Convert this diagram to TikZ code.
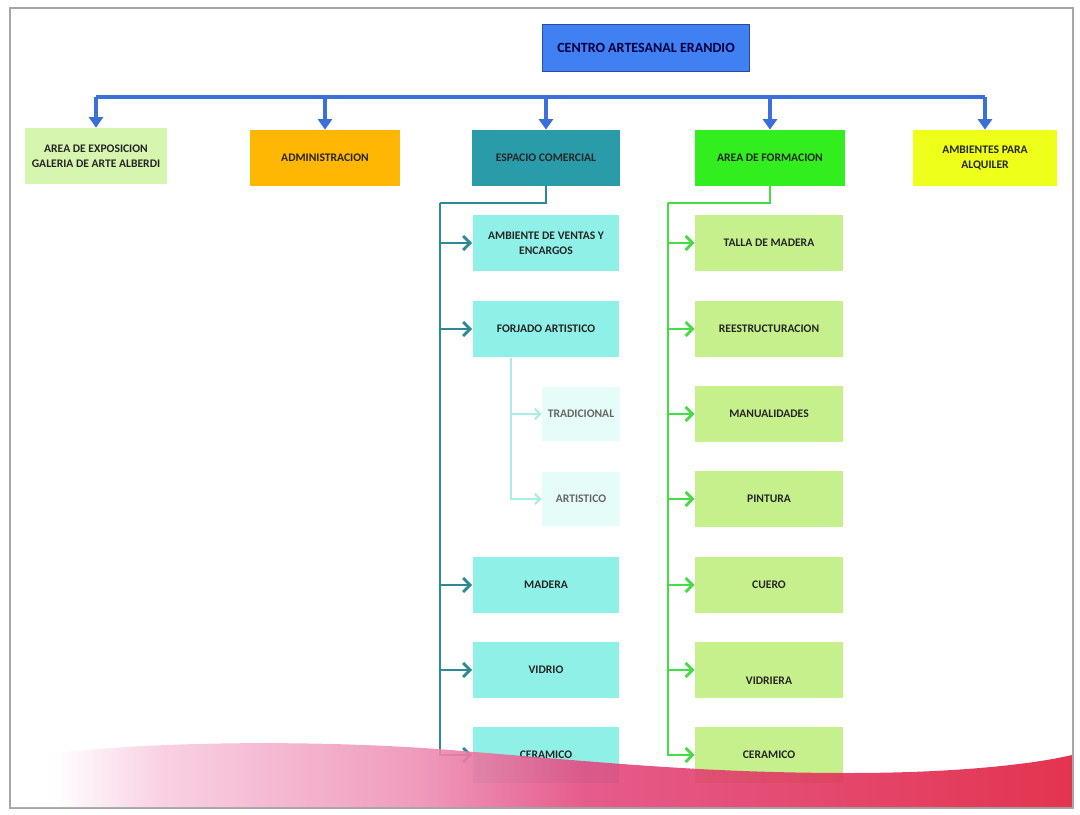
\documentclass[tikz,border=0pt]{standalone}
\usepackage{fontspec}
\setmainfont{Carlito}
\usetikzlibrary{arrows.meta}

\definecolor{titleblue}{HTML}{4080F2}
\definecolor{titleline}{HTML}{2A4A9A}
\definecolor{barblue}{HTML}{3A70D8}
\definecolor{expogreen}{HTML}{D6F5AE}
\definecolor{adminorange}{HTML}{FFB703}
\definecolor{comteal}{HTML}{2A9BA8}
\definecolor{formgreen}{HTML}{33EE1F}
\definecolor{alqyellow}{HTML}{EEFF1A}
\definecolor{aqua}{HTML}{8EF0E6}
\definecolor{paleaqua}{HTML}{E6FCF8}
\definecolor{lime}{HTML}{C6F08C}
\definecolor{trunkteal}{HTML}{2B8A96}
\definecolor{subteal}{HTML}{A8EEE6}
\definecolor{trunkgreen}{HTML}{44DD44}
\definecolor{swlight}{HTML}{F8CCE0}
\definecolor{swpink}{HTML}{E24A80}
\definecolor{swred}{HTML}{E01E3C}

\pgfdeclarehorizontalshading{swoosh}{100bp}{color(0bp)=(white); color(27bp)=(white);
  color(32bp)=(swlight); color(44bp)=(swlight!55!swpink); color(52bp)=(swpink);
  color(75bp)=(swred); color(100bp)=(swred)}

\begin{document}
\begin{tikzpicture}[
  x=0.02cm, y=-0.02cm,
  box/.style={rectangle, minimum height=1.12cm, inner sep=1pt, align=center,
    font=\fontsize{6.6}{8.4}\selectfont\bfseries, text=black!85},
  title/.style={rectangle, draw=titleline, line width=1pt, fill=titleblue,
    minimum width=4.14cm, minimum height=0.94cm, text=blue!25!black,
    font=\fontsize{8}{10}\selectfont\bfseries},
  combox/.style={box, fill=aqua, minimum width=2.94cm, minimum height=1.14cm},
  subbox/.style={box, fill=paleaqua, minimum width=1.56cm, minimum height=1.08cm, text=black!60},
  formbox/.style={box, fill=lime, minimum width=2.96cm, minimum height=1.14cm},
  barline/.style={barblue, line width=2.4pt},
  bararrow/.style={barblue, line width=2.4pt, -{Triangle[width=8pt,length=6pt]}},
  cline/.style={trunkteal, line width=1.6pt},
  carrow/.style={trunkteal, line width=1.6pt, -{Straight Barb[length=4pt,width=8pt]}},
  sarrow/.style={subteal, line width=1.2pt, -{Straight Barb[length=3pt,width=6pt]}},
  fline/.style={trunkgreen, line width=1.6pt},
  farrow/.style={trunkgreen, line width=1.6pt, -{Straight Barb[length=4pt,width=8pt]}}
]

\useasboundingbox (0,0) rectangle (1080,815);
\draw[gray!70, line width=0.8pt] (10,8) rectangle (1073,808);

\node[title] (centro) at (646,48) {CENTRO ARTESANAL ERANDIO};

% first level
\node[box, fill=expogreen, minimum width=2.86cm] (expo) at (96,156) {AREA DE EXPOSICION\\GALERIA DE ARTE ALBERDI};
\node[box, fill=adminorange, minimum width=3cm] (admin) at (325,158) {ADMINISTRACION};
\node[box, fill=comteal, minimum width=2.96cm] (ecom) at (546,158) {ESPACIO COMERCIAL};
\node[box, fill=formgreen, minimum width=3cm] (form) at (770,158) {AREA DE FORMACION};
\node[box, fill=alqyellow, minimum width=2.88cm] (alq) at (985,158) {AMBIENTES PARA\\ALQUILER};

% espacio comercial
\node[combox] (cventa) at (546,243) {AMBIENTE DE VENTAS Y\\ENCARGOS};
\node[combox] (cforja) at (546,329) {FORJADO ARTISTICO};
\node[subbox] (ctrad) at (581,414) {TRADICIONAL};
\node[subbox] (cartis) at (581,499) {ARTISTICO};
\node[combox] (cmadera) at (546,585) {MADERA};
\node[combox] (cvidrio) at (546,670) {VIDRIO};
\node[combox] (ccera) at (546,755) {CERAMICO};

% area de formacion
\node[formbox] (ftalla) at (769,243) {TALLA DE MADERA};
\node[formbox] (freest) at (769,329) {REESTRUCTURACION};
\node[formbox] (fmanual) at (769,414) {MANUALIDADES};
\node[formbox] (fpint) at (769,499) {PINTURA};
\node[formbox] (fcuero) at (769,585) {CUERO};
\node[formbox] (fvidri) at (769,670) {\mbox{}\\[8pt]VIDRIERA};
\node[formbox] (fcera) at (769,755) {CERAMICO};

\coordinate (bar) at (0,97);
\coordinate (cturn) at (440,203);
\coordinate (sdrop) at (511,0);
\coordinate (fturn) at (668,203);

% top bar
\draw[barline] (expo.north |- bar) -- (alq.north |- bar);
\foreach \n in {expo,admin,ecom,form,alq}
  \draw[bararrow] (\n.north |- bar) -- (\n.north);

% espacio comercial arrows
\draw[cline] (ecom.south) |- (cturn);
\draw[carrow] (cturn) |- (ccera.west);
\foreach \n in {cventa,cforja,cmadera,cvidrio}
  \draw[carrow] (cturn |- \n.west) -- (\n.west);
\draw[sarrow] (sdrop |- cforja.south) |- (cartis.west);
\draw[sarrow] (sdrop |- ctrad.west) -- (ctrad.west);

% area de formacion arrows
\draw[fline] (form.south) |- (fturn);
\draw[farrow] (fturn) |- (fcera.west);
\foreach \n in {ftalla,freest,fmanual,fpint,fcuero,fvidri}
  \draw[farrow] (fturn |- \n.west) -- (\n.west);

% bottom swoosh
\shade[shading=swoosh, opacity=0.9]
  (12,807) -- (12,760) .. controls (100,742) and (300,738) .. (450,750)
  .. controls (600,762) and (700,773) .. (850,773)
  .. controls (950,773) and (1030,765) .. (1072,755) -- (1072,807) -- cycle;

\end{tikzpicture}
\end{document}
